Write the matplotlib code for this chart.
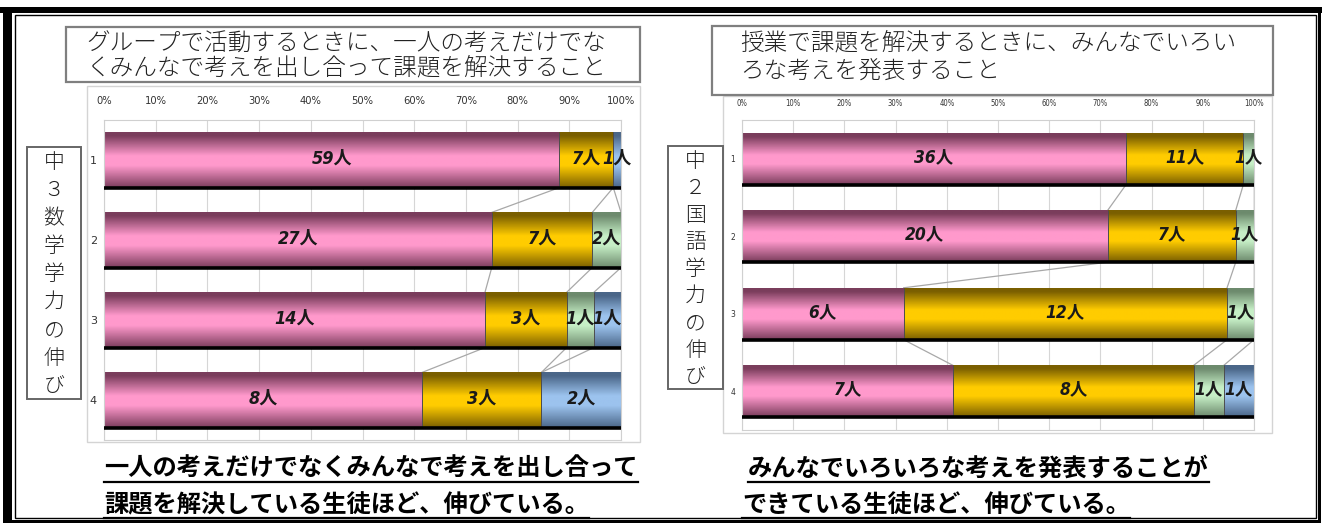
import matplotlib
matplotlib.use('Agg')
import matplotlib.pyplot as plt
import numpy as np
from matplotlib.colors import LinearSegmentedColormap
from matplotlib.patches import Rectangle

W, H = 1322, 525
JP = 'Noto Sans CJK JP'
NARROW = ['DejaVu Sans', JP]

# データ (人数)
rows = ['1', '2', '3', '4']
math_pink = [59, 27, 14, 8]
math_yellow = [7, 7, 3, 3]
math_green = [0, 2, 1, 0]
math_blue = [1, 0, 1, 2]
jp_pink = [36, 20, 6, 7]
jp_yellow = [11, 7, 12, 8]
jp_green = [1, 1, 1, 1]
jp_blue = [0, 0, 0, 1]

pct_ticks = [0, 10, 20, 30, 40, 50, 60, 70, 80, 90, 100]
pct_labels = ['%d%%' % t for t in pct_ticks]

left_title = ['グループで活動するときに、一人の考えだけでな', 'くみんなで考えを出し合って課題を解決すること']
right_title = ['授業で課題を解決するときに、みんなでいろい', 'ろな考えを発表すること']
left_side = '中３数学学力の伸び'
right_side = '中２国語学力の伸び'
left_note = ['一人の考えだけでなくみんなで考えを出し合って', '課題を解決している生徒ほど、伸びている。']
right_note = ['みんなでいろいろな考えを発表することが', 'できている生徒ほど、伸びている。']

base_cols = ['#FF99CC', '#FFCC00', '#C6EFC6', '#9CC3EE']
dark_cols = ['#7A3D5C', '#7A5F00', '#6D8A6D', '#4A6688']

fig = plt.figure(figsize=(13.22, 5.25), dpi=100)
fig.patch.set_facecolor('white')

# 全体の枠・テキスト用 (ピクセル座標)
bg = fig.add_axes([0, 0, 1, 1])
bg.set_xlim(0, W)
bg.set_ylim(H, 0)
bg.axis('off')


def px_axes(x0, y0, x1, y1):
    return fig.add_axes([x0 / W, 1 - y1 / H, (x1 - x0) / W, (y1 - y0) / H])


# 外枠
bg.add_patch(Rectangle((0, 7), W, 6, color='black', lw=0))
bg.add_patch(Rectangle((3, 7), 9, 516, color='black', lw=0))
bg.add_patch(Rectangle((1318, 7), 3, 516, color='black', lw=0))
bg.add_patch(Rectangle((3, 520), 1318, 3, color='black', lw=0))
bg.add_patch(Rectangle((15, 15), 1301, 503, fill=False, edgecolor='black', lw=1))

# グラフエリアの枠
bg.add_patch(Rectangle((87, 86), 553, 356, fill=False, edgecolor='#d4d4d4', lw=1))
bg.add_patch(Rectangle((723, 96), 549, 337, fill=False, edgecolor='#d4d4d4', lw=1))

# タイトル枠
for (x, y, w, h), lines, tx, gap in [((66, 27, 574, 55), left_title, 86, 24),
                                     ((712, 26, 561, 69), right_title, 740, 29)]:
    bg.add_patch(Rectangle((x, y), w, h, facecolor='white', edgecolor='#7f7f7f', lw=1.6, zorder=3))
    for k, line in enumerate(lines):
        bg.text(tx, y + 17 + k * gap, line, family=JP, fontsize=17, fontweight='light',
                va='center', ha='left', color='#222222', zorder=4)

# 縦書きの枠
for (x, y, w, h), txt, step in [((27, 147, 54, 252), left_side, 28.0),
                                ((668, 146, 55, 243), right_side, 27.0)]:
    bg.add_patch(Rectangle((x, y), w, h, facecolor='white', edgecolor='#666666', lw=1.4))
    for k, ch in enumerate(txt):
        bg.text(x + w / 2, y + 15 + k * step, ch, family=JP, fontsize=15, fontweight='light',
                ha='center', va='center', color='#222222')

grad = np.linspace(0, 1, 80).reshape(-1, 1)


def make_cmap(base, dark):
    return LinearSegmentedColormap.from_list('g', [(0.0, dark), (0.06, dark), (0.42, base),
                                                   (0.60, base), (1.0, dark)])


def draw_chart(ax, series, bar_h, label_fs, tick_fs, ytick_fs, pad):
    n = len(rows)
    ypos = np.arange(1, n + 1)
    totals = np.sum(np.array(series), axis=0)
    left = np.zeros(n)
    bounds = [left.copy()]
    for vals, c, d in zip(series, base_cols, dark_cols):
        vals = np.array(vals)
        pct = vals / totals * 100
        cmap = make_cmap(c, d)
        for i in range(n):
            if vals[i] == 0:
                continue
            x0, x1 = left[i], left[i] + pct[i]
            ax.imshow(grad, cmap=cmap, extent=(x0, x1, ypos[i] + bar_h / 2, ypos[i] - bar_h / 2),
                      aspect='auto', origin='upper', interpolation='bilinear', zorder=2)
            ax.text((x0 + x1) / 2, ypos[i] - 0.02, '%d人' % vals[i], family=NARROW, fontsize=label_fs,
                    fontweight='bold', style='italic', fontstretch='condensed',
                    ha='center', va='center', color='#1a1a1a', zorder=5)
        left = left + pct
        bounds.append(left.copy())
    for b in bounds[1:-1]:
        ax.vlines(b, ypos - bar_h / 2, ypos + bar_h / 2, color='#4d4d4d', lw=0.7, zorder=3)
    for b in bounds[1:]:
        for i in range(n - 1):
            ax.plot([b[i], b[i + 1]], [ypos[i] + bar_h / 2, ypos[i + 1] - bar_h / 2],
                    color='#a8a8a8', lw=0.9, zorder=1)
    ax.hlines(ypos + bar_h / 2, 0, 100, color='black', lw=2.6, zorder=4)
    ax.set_xlim(0, 100)
    ax.set_ylim(n + 0.5, 0.5)
    ax.set_xticks(pct_ticks)
    ax.set_xticklabels(pct_labels, family=NARROW, fontstretch='condensed', fontsize=tick_fs, color='#333333')
    ax.set_yticks(ypos)
    ax.set_yticklabels(rows, family=NARROW, fontsize=ytick_fs, color='#333333')
    ax.tick_params(axis='x', top=True, labeltop=True, bottom=False, labelbottom=False, length=0, pad=pad)
    ax.tick_params(axis='y', length=0, pad=5)
    ax.grid(axis='x', color='#d6d6d6', lw=0.8, zorder=0)
    ax.set_axisbelow(True)
    for s in ax.spines.values():
        s.set_color('#d0d0d0')
        s.set_linewidth(0.8)


ax1 = px_axes(104, 120, 621, 440)
draw_chart(ax1, [math_pink, math_yellow, math_green, math_blue], 0.69, 13, 8, 8, 10)

ax2 = px_axes(742, 120, 1254, 430)
draw_chart(ax2, [jp_pink, jp_yellow, jp_green, jp_blue], 0.67, 12.5, 5.5, 5.5, 9)

# 下のまとめ文 (太字・下線)
notes = []
for lines, xs in [(left_note, [104, 104]), (right_note, [748, 742])]:
    for k, line in enumerate(lines):
        t = bg.text(xs[k], 469 + k * 36, line, family=JP, fontsize=17.5, fontweight='bold',
                    ha='left', va='center', color='black')
        notes.append(t)

fig.canvas.draw()
r = fig.canvas.get_renderer()
for t in notes:
    bb = t.get_window_extent(renderer=r)
    yline = H - bb.y0 + 1
    bg.plot([bb.x0, bb.x1], [yline, yline], color='black', lw=1.6)

fig.savefig('out.png', dpi=100, facecolor='white')
